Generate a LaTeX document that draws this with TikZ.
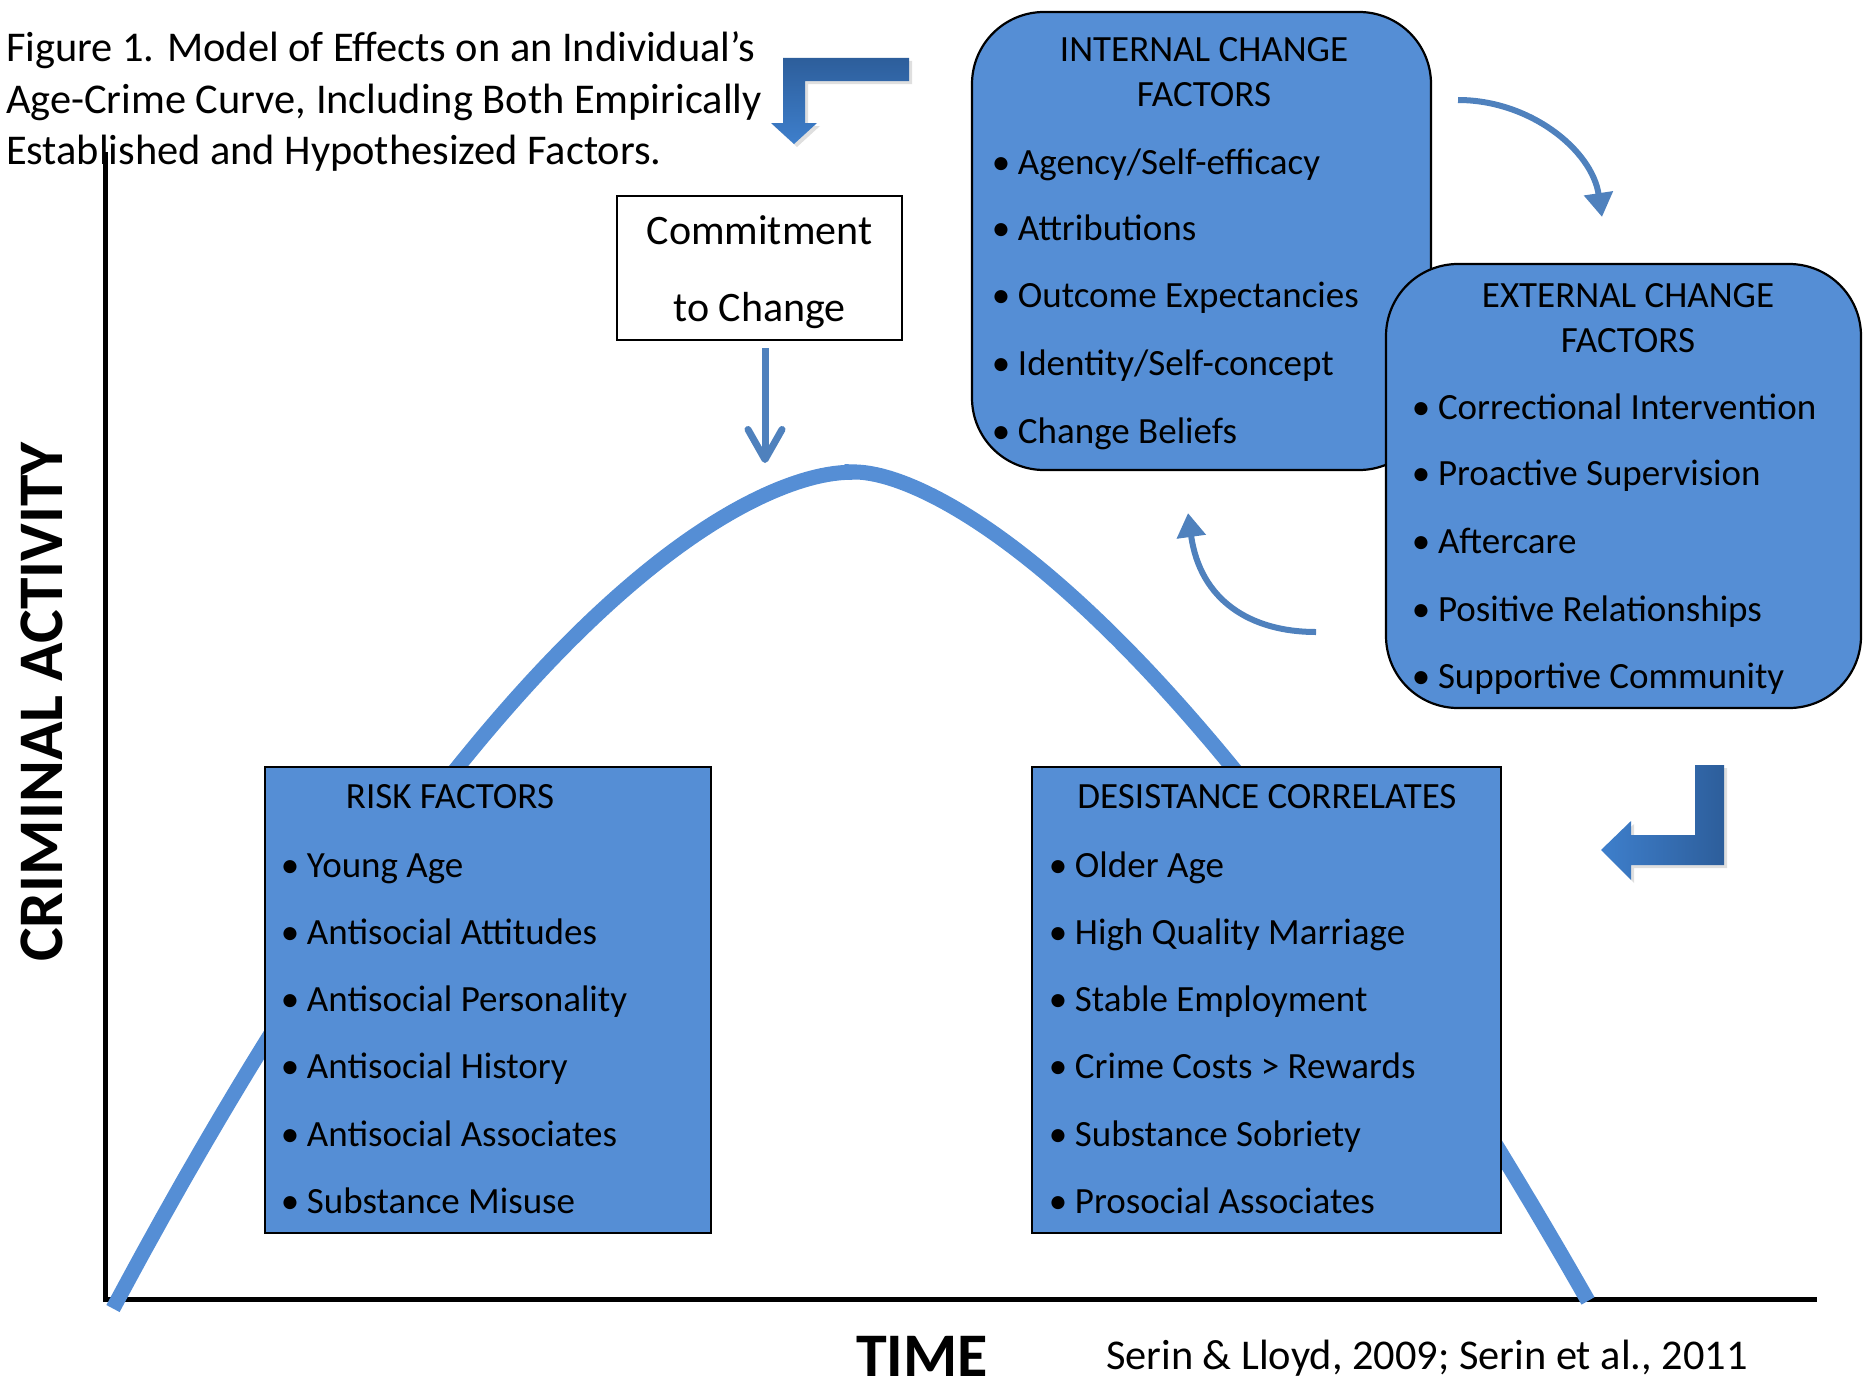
\documentclass[tikz,border=0pt]{standalone}
\usepackage{fontspec}
\setmainfont{Carlito}
\usetikzlibrary{arrows.meta,shadows}
\definecolor{boxblue}{HTML}{558ED5}
\definecolor{arrblue}{HTML}{4F81BD}
\definecolor{darkarr}{HTML}{2D5E9B}
\definecolor{lightarr}{HTML}{3E7FCC}
\newcommand{\myfs}[2]{\fontsize{#1pt}{#2pt}\selectfont}
\newcommand{\bul}{\makebox[0pt][c]{\textbullet}\hspace{17pt}}
\begin{document}
\begin{tikzpicture}[x=1pt,y=-1pt,
  every node/.style={inner sep=0pt, outer sep=0pt},
  sqbox/.style={draw=black, line width=2pt, fill=boxblue},
  rndbox/.style={draw=black, line width=2.2pt, fill=boxblue, rounded corners=72pt},
  item/.style={anchor=base west, font=\myfs{37}{44}},
  title/.style={anchor=base, font=\myfs{37}{44}},
  captext/.style={anchor=base west, font=\myfs{42.4}{51}},
  curvarr/.style={draw=arrblue, line width=6pt, -{Triangle[length=24pt,width=28pt]}},
  bent/.style={drop shadow={opacity=0.25,shadow xshift=3pt,shadow yshift=-3pt}},
]
\useasboundingbox (0,0) rectangle (1865,1397);
% caption
\node[captext] (cap1) at (6,62) {Figure 1. Model of Effects on an Individual’s};
\node[captext] (cap2) at (6,113) {Age-Crime Curve, Including Both Empirically};
\node[captext] (cap3) at (6,164) {Established and Hypothesized Factors.};
% axes
\coordinate (ytop) at (105,152);
\coordinate (orig) at (105,1299);
\coordinate (xend) at (1817,1299);
\draw[line width=5pt] (ytop) -- (orig) -- (xend);
% age-crime curve
\draw[boxblue, line width=15pt]
  plot[domain=113:852, samples=120] ({\x}, {468 + 30.96*exp(1.65*ln(sqrt(((852-\x)/100)^2+0.09)))})
  -- plot[domain=852:1588, samples=120] ({\x}, {466 + 37.8*exp(1.55*ln(sqrt(((\x-852)/100)^2+0.09)))});
% boxes
\node[sqbox, minimum width=446pt, minimum height=466pt] (risk) at (488,1000) {};
\node[sqbox, minimum width=469pt, minimum height=466pt] (desist) at (1266.5,1000) {};
\node[rndbox, minimum width=459pt, minimum height=458pt] (internal) at (1201.5,241) {};
\node[rndbox, minimum width=475pt, minimum height=444pt] (external) at (1623.5,486) {};
\node[draw=black, line width=2pt, fill=white, minimum width=285pt, minimum height=144pt] (commit) at (759.5,268) {};
\node[align=center, font=\myfs{42}{77}] (committxt) at (759.5,272) {Commitment\\to Change};
% risk factors
\node[title] (rt) at (450,808) {RISK FACTORS};
\node[item] (r1) at (290,877) {\bul Young Age};
\node[item] (r2) at (290,944) {\bul Antisocial Attitudes};
\node[item] (r3) at (290,1011) {\bul Antisocial Personality};
\node[item] (r4) at (290,1078) {\bul Antisocial History};
\node[item] (r5) at (290,1146) {\bul Antisocial Associates};
\node[item] (r6) at (290,1213) {\bul Substance Misuse};
% desistance correlates
\node[title] (dt) at (1267,808) {DESISTANCE CORRELATES};
\node[item] (d1) at (1058,877) {\bul Older Age};
\node[item] (d2) at (1058,944) {\bul High Quality Marriage};
\node[item] (d3) at (1058,1011) {\bul Stable Employment};
\node[item] (d4) at (1058,1078) {\bul Crime Costs > Rewards};
\node[item] (d5) at (1058,1146) {\bul Substance Sobriety};
\node[item] (d6) at (1058,1213) {\bul Prosocial Associates};
% internal
\node[title] (it1) at (1204,62) {INTERNAL CHANGE};
\node[title] (it2) at (1204,106) {FACTORS};
\node[item] (i1) at (1001,174) {\bul Agency/Self-efficacy};
\node[item] (i2) at (1001,240) {\bul Attributions};
\node[item] (i3) at (1001,307) {\bul Outcome Expectancies};
\node[item] (i4) at (1001,375) {\bul Identity/Self-concept};
\node[item] (i5) at (1001,443) {\bul Change Beliefs};
% external
\node[title] (et1) at (1628,307) {EXTERNAL CHANGE};
\node[title] (et2) at (1628,352) {FACTORS};
\node[item] (e1) at (1421,419) {\bul Correctional Intervention};
\node[item] (e2) at (1421,485) {\bul Proactive Supervision};
\node[item] (e3) at (1421,553) {\bul Aftercare};
\node[item] (e4) at (1421,621) {\bul Positive Relationships};
\node[item] (e5) at (1421,688) {\bul Supportive Community};
% axis labels and citation
\node[font=\bfseries\myfs{63.5}{64}, rotate=90] (ylab) at (42,702) {CRIMINAL ACTIVITY};
\node[font=\bfseries\myfs{62}{62}] (xlab) at (922,1356) {TIME};
\node[anchor=west, font=\myfs{42.4}{50}] (cite) at (1106,1358) {Serin \& Lloyd, 2009; Serin et al., 2011};
% commitment arrow
\coordinate (cstart) at (765,348);
\coordinate (peaktip) at (765,463);
\draw[arrblue, line width=7pt, -{Straight Barb[length=30pt,width=34pt,round]}] (cstart) -- (peaktip);
% curved arrows
\coordinate (ca1s) at (1458,100);
\coordinate (ca1e) at (1602,217);
\draw[curvarr] (ca1s) .. controls (1530,100) and (1592,150) .. (ca1e);
\coordinate (ca2s) at (1316,632);
\coordinate (ca2e) at (1188,513);
\draw[curvarr] (ca2s) .. controls (1250,632) and (1200,600) .. (ca2e);
% bent arrows
\path[bent, top color=darkarr, bottom color=lightarr]
  (909,58) -- (783,58) -- (783,123) -- (771,123) -- (794,144) -- (817,123)
  -- (805,123) -- (805,81) -- (909,81) -- cycle;
\path[bent, left color=lightarr, right color=darkarr]
  (1695,765) -- (1724,765) -- (1724,865) -- (1631,865) -- (1631,880) -- (1601,850)
  -- (1631,821) -- (1631,835) -- (1695,835) -- cycle;
\end{tikzpicture}
\end{document}
